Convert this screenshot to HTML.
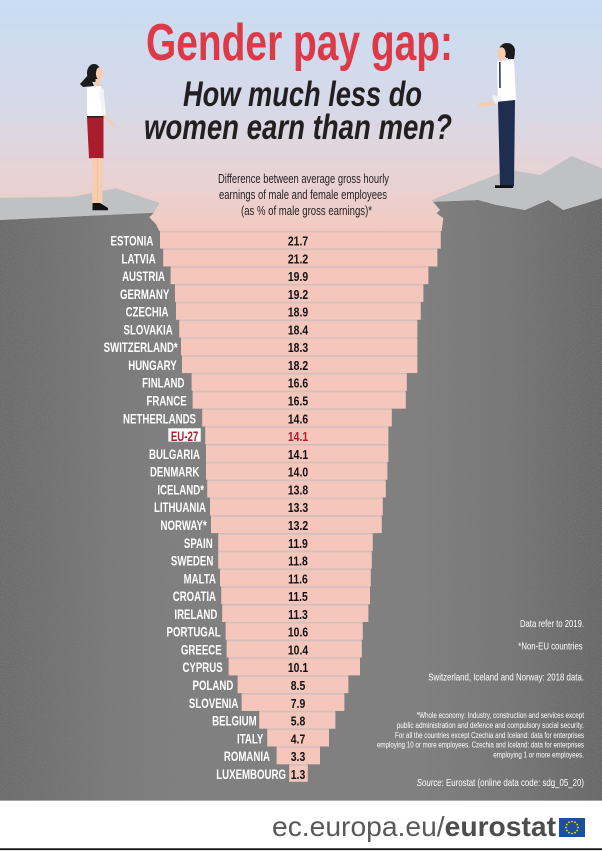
<!DOCTYPE html>
<html><head><meta charset="utf-8"><style>html,body{margin:0;padding:0;background:#fff;}svg{display:block}</style></head>
<body>
<svg width="602" height="852" viewBox="0 0 602 852" xmlns="http://www.w3.org/2000/svg" font-family="'Liberation Sans', sans-serif">
<defs>
<linearGradient id="sky" x1="0" y1="0" x2="0" y2="232" gradientUnits="userSpaceOnUse">
<stop offset="0" stop-color="#c9ddf3"/>
<stop offset="0.45" stop-color="#d6d9e8"/>
<stop offset="0.75" stop-color="#e7d3d6"/>
<stop offset="1" stop-color="#f2cac1"/>
</linearGradient>
<linearGradient id="rock" x1="0" y1="0" x2="602" y2="0" gradientUnits="userSpaceOnUse">
<stop offset="0" stop-color="#6a6a6a"/>
<stop offset="0.18" stop-color="#7a7a7a"/>
<stop offset="0.3" stop-color="#808080"/>
<stop offset="0.7" stop-color="#808080"/>
<stop offset="0.85" stop-color="#767676"/>
<stop offset="1" stop-color="#666666"/>
</linearGradient>
<linearGradient id="fade" x1="0" y1="0" x2="602" y2="0" gradientUnits="userSpaceOnUse">
<stop offset="0" stop-color="#fff"/>
<stop offset="0.2" stop-color="#fff" stop-opacity="0.5"/>
<stop offset="0.32" stop-color="#fff" stop-opacity="0"/>
<stop offset="0.68" stop-color="#fff" stop-opacity="0"/>
<stop offset="0.85" stop-color="#fff" stop-opacity="0.6"/>
<stop offset="1" stop-color="#fff"/>
</linearGradient>
<mask id="edgemask"><rect x="0" y="0" width="602" height="852" fill="url(#fade)"/></mask>
<clipPath id="rockclip"><polygon points="0,220 154,212.7 149.3,217.3 156,224.3 159.3,231 441.7,231 443.3,218.3 436.7,213.3 440,210 433,201.7 478.3,200 496.7,205 525,210 548.3,200 563.3,210 602,198.3 602,800.7 0,800.7"/></clipPath>
<filter id="noise" x="0" y="0" width="100%" height="100%">
<feTurbulence type="fractalNoise" baseFrequency="0.9" numOctaves="2" seed="7"/>
<feColorMatrix type="matrix" values="0 0 0 0 0.3  0 0 0 0 0.3  0 0 0 0 0.3  1.6 0 0 0 -0.6"/>
</filter>
</defs>

<!-- background -->
<rect x="0" y="0" width="602" height="852" fill="url(#sky)"/>

<!-- rock -->
<polygon fill="url(#rock)" points="0,220 154,212.7 149.3,217.3 156,224.3 159.3,231 441.7,231 443.3,218.3 436.7,213.3 440,210 433,201.7 478.3,200 496.7,205 525,210 548.3,200 563.3,210 602,198.3 602,800.7 0,800.7"/>
<g clip-path="url(#rockclip)" mask="url(#edgemask)">
<rect x="0" y="195" width="602" height="606" filter="url(#noise)" opacity="0.55"/>
</g>
<!-- slabs -->
<polygon fill="#c0c1c3" points="0,197.7 73,196.7 116,188.3 159.3,202.7 154,212.7 0,220"/>
<polygon fill="#c0c1c3" points="431.7,200 500,173.3 515,170.7 540,175 571.7,156 602,168.3 602,198.3 563.3,210 548.3,200 525,210 496.7,205 478.3,200 433,201.7"/>

<!-- woman -->
<g>
<ellipse cx="94" cy="73" rx="7" ry="9" fill="#1b1b1b"/>
<polygon fill="#1b1b1b" points="89,74 80,84 83,87 94,86"/>
<ellipse cx="99.5" cy="73.5" rx="3.6" ry="6.2" fill="#f6cdb0"/>
<rect x="95.5" y="79" width="4" height="9" fill="#f6cdb0"/>
<polygon fill="#ffffff" points="87,87 101,86 104,100 103.5,116.7 87,117"/>
<polygon fill="#f4f4f4" points="99,88 103.5,89 106,116 102.5,117"/>
<line x1="104" y1="116" x2="114" y2="126" stroke="#f6cdb0" stroke-width="2.5" stroke-linecap="round"/>
<rect x="87" y="116" width="16.5" height="1.5" fill="#222"/>
<polygon fill="#a81c2c" points="87,117.5 103.5,117.5 103.5,158.3 89,158.3"/>
<rect x="92" y="158" width="10.5" height="46" fill="#f6cdb0"/>
<line x1="97.2" y1="160" x2="97.2" y2="203" stroke="#e4b89a" stroke-width="0.6"/>
<polygon fill="#111" points="92.5,203 100,203 108,208 108,210.3 92.5,210.3"/>
</g>

<!-- man -->
<g>
<ellipse cx="507" cy="50.5" rx="8" ry="7.5" fill="#1b1b1b"/>
<polygon fill="#1b1b1b" points="508,52 515,53 514,59 508,59"/>
<ellipse cx="501.5" cy="53.5" rx="4.2" ry="6.3" fill="#f6cdb0"/>
<rect x="501" y="57" width="5" height="5" fill="#f6cdb0"/>
<polygon fill="#ffffff" points="497,61 514,60 516,100 498,102"/>
<line x1="499.8" y1="62" x2="500" y2="88" stroke="#1f2d50" stroke-width="1.5"/>
<polygon fill="#f2f2f2" points="492,95 500,96.5 502,102 494,104"/>
<polygon fill="#f6cdb0" points="478,104 494,100.5 495,104.5 480,107.5"/>
<polygon fill="#1f2d50" points="498,101.7 515,100 514,186 500,186"/>
<polygon fill="#111" points="495,185.3 513.3,185.3 513.3,188 495,188"/>
</g>

<!-- title -->
<text x="146" y="60" font-size="52" font-weight="bold" fill="#dd3947" textLength="307" lengthAdjust="spacingAndGlyphs">Gender pay gap:</text>
<text x="183" y="106" font-size="35" font-weight="bold" font-style="italic" fill="#231f20" textLength="239" lengthAdjust="spacingAndGlyphs">How much less do</text>
<text x="144" y="139" font-size="35" font-weight="bold" font-style="italic" fill="#231f20" textLength="308" lengthAdjust="spacingAndGlyphs">women earn than men?</text>

<!-- subtitle -->
<g font-size="12.5" fill="#231f20">
<text x="218" y="183" textLength="171" lengthAdjust="spacingAndGlyphs">Difference between average gross hourly</text>
<text x="219" y="199" textLength="168" lengthAdjust="spacingAndGlyphs">earnings of male and female employees</text>
<text x="241" y="215" textLength="131" lengthAdjust="spacingAndGlyphs">(as % of male gross earnings)*</text>
</g>

<!-- bars: separators -->
<g fill="#d3c1bd">
<rect x="160" y="230.8" width="280.7" height="17.78"/>
<rect x="163.3" y="248.58" width="274" height="17.78"/>
<rect x="170.7" y="266.36" width="257.6" height="17.78"/>
<rect x="175" y="284.14" width="248.3" height="17.78"/>
<rect x="176" y="301.92" width="244.7" height="17.78"/>
<rect x="179.3" y="319.7" width="238" height="17.78"/>
<rect x="181" y="337.48" width="236.3" height="17.78"/>
<rect x="182" y="355.26" width="235.3" height="17.78"/>
<rect x="191.7" y="373.04" width="215" height="17.78"/>
<rect x="192.7" y="390.82" width="213" height="17.78"/>
<rect x="202.3" y="408.6" width="189.4" height="17.78"/>
<rect x="205.3" y="426.38" width="183" height="17.78"/>
<rect x="206" y="444.16" width="182.3" height="17.78"/>
<rect x="206" y="461.94" width="181.3" height="17.78"/>
<rect x="207.3" y="479.72" width="178.4" height="17.78"/>
<rect x="210" y="497.5" width="172.7" height="17.78"/>
<rect x="211" y="515.28" width="170.7" height="17.78"/>
<rect x="218.3" y="533.06" width="154.4" height="17.78"/>
<rect x="218.3" y="550.84" width="153.4" height="17.78"/>
<rect x="220" y="568.62" width="150.7" height="17.78"/>
<rect x="221.3" y="586.4" width="148.7" height="17.78"/>
<rect x="222.3" y="604.18" width="146" height="17.78"/>
<rect x="225.7" y="621.96" width="137" height="17.78"/>
<rect x="226.7" y="639.74" width="135" height="17.78"/>
<rect x="228.7" y="657.52" width="131.3" height="17.78"/>
<rect x="237.7" y="675.3" width="110.6" height="17.78"/>
<rect x="241.7" y="693.08" width="102.6" height="17.78"/>
<rect x="259.3" y="710.86" width="76" height="17.78"/>
<rect x="267.3" y="728.64" width="61.7" height="17.78"/>
<rect x="276.7" y="746.42" width="43.3" height="17.78"/>
<rect x="289.3" y="764.2" width="18.4" height="17.5"/>
</g>
<!-- bars: fill -->
<g fill="#f4c6bc">
<rect x="160" y="232.3" width="280.7" height="16.28"/>
<rect x="163.3" y="250.08" width="274" height="16.28"/>
<rect x="170.7" y="267.86" width="257.6" height="16.28"/>
<rect x="175" y="285.64" width="248.3" height="16.28"/>
<rect x="176" y="303.42" width="244.7" height="16.28"/>
<rect x="179.3" y="321.2" width="238" height="16.28"/>
<rect x="181" y="338.98" width="236.3" height="16.28"/>
<rect x="182" y="356.76" width="235.3" height="16.28"/>
<rect x="191.7" y="374.54" width="215" height="16.28"/>
<rect x="192.7" y="392.32" width="213" height="16.28"/>
<rect x="202.3" y="410.1" width="189.4" height="16.28"/>
<rect x="205.3" y="427.88" width="183" height="16.28"/>
<rect x="206" y="445.66" width="182.3" height="16.28"/>
<rect x="206" y="463.44" width="181.3" height="16.28"/>
<rect x="207.3" y="481.22" width="178.4" height="16.28"/>
<rect x="210" y="499" width="172.7" height="16.28"/>
<rect x="211" y="516.78" width="170.7" height="16.28"/>
<rect x="218.3" y="534.56" width="154.4" height="16.28"/>
<rect x="218.3" y="552.34" width="153.4" height="16.28"/>
<rect x="220" y="570.12" width="150.7" height="16.28"/>
<rect x="221.3" y="587.9" width="148.7" height="16.28"/>
<rect x="222.3" y="605.68" width="146" height="16.28"/>
<rect x="225.7" y="623.46" width="137" height="16.28"/>
<rect x="226.7" y="641.24" width="135" height="16.28"/>
<rect x="228.7" y="659.02" width="131.3" height="16.28"/>
<rect x="237.7" y="676.8" width="110.6" height="16.28"/>
<rect x="241.7" y="694.58" width="102.6" height="16.28"/>
<rect x="259.3" y="712.36" width="76" height="16.28"/>
<rect x="267.3" y="730.14" width="61.7" height="16.28"/>
<rect x="276.7" y="747.92" width="43.3" height="16.28"/>
<rect x="289.3" y="765.7" width="18.4" height="16"/>
</g>

<!-- EU-27 box -->
<rect x="168.3" y="428.3" width="32.4" height="13.4" fill="#ffffff"/>

<!-- labels -->
<g font-size="13.8" font-weight="bold" fill="#ffffff" text-anchor="end">
<text transform="translate(153.3,245.5) scale(0.7,1)">ESTONIA</text>
<text transform="translate(155.7,263.28) scale(0.7,1)">LATVIA</text>
<text transform="translate(165,281.06) scale(0.7,1)">AUSTRIA</text>
<text transform="translate(169.3,298.84) scale(0.7,1)">GERMANY</text>
<text transform="translate(168.5,316.62) scale(0.7,1)">CZECHIA</text>
<text transform="translate(172.7,334.4) scale(0.7,1)">SLOVAKIA</text>
<text transform="translate(177.7,352.18) scale(0.7,1)">SWITZERLAND*</text>
<text transform="translate(176.7,369.96) scale(0.7,1)">HUNGARY</text>
<text transform="translate(184.5,387.74) scale(0.7,1)">FINLAND</text>
<text transform="translate(186.7,405.52) scale(0.7,1)">FRANCE</text>
<text transform="translate(196,423.3) scale(0.7,1)">NETHERLANDS</text>
<text transform="translate(200,458.86) scale(0.7,1)">BULGARIA</text>
<text transform="translate(199.3,476.64) scale(0.7,1)">DENMARK</text>
<text transform="translate(204,494.42) scale(0.7,1)">ICELAND*</text>
<text transform="translate(206,512.2) scale(0.7,1)">LITHUANIA</text>
<text transform="translate(206.7,529.98) scale(0.7,1)">NORWAY*</text>
<text transform="translate(212.7,547.76) scale(0.7,1)">SPAIN</text>
<text transform="translate(213.3,565.54) scale(0.7,1)">SWEDEN</text>
<text transform="translate(216,583.32) scale(0.7,1)">MALTA</text>
<text transform="translate(216,601.1) scale(0.7,1)">CROATIA</text>
<text transform="translate(217.3,618.88) scale(0.7,1)">IRELAND</text>
<text transform="translate(220.7,636.66) scale(0.7,1)">PORTUGAL</text>
<text transform="translate(221.7,654.44) scale(0.7,1)">GREECE</text>
<text transform="translate(222.7,672.22) scale(0.7,1)">CYPRUS</text>
<text transform="translate(233.3,690) scale(0.7,1)">POLAND</text>
<text transform="translate(238.3,707.78) scale(0.7,1)">SLOVENIA</text>
<text transform="translate(256.7,725.56) scale(0.7,1)">BELGIUM</text>
<text transform="translate(263.3,743.34) scale(0.7,1)">ITALY</text>
<text transform="translate(270,761.12) scale(0.7,1)">ROMANIA</text>
<text transform="translate(286,778.9) scale(0.7,1)">LUXEMBOURG</text>
</g>
<text transform="translate(184.5,441.08) scale(0.7,1)" font-size="13.8" font-weight="bold" fill="#b31d2e" text-anchor="middle">EU-27</text>

<!-- values -->
<g font-size="13" font-weight="bold" fill="#111" text-anchor="middle">
<text transform="translate(298,245.5) scale(0.8,1)">21.7</text>
<text transform="translate(298,263.28) scale(0.8,1)">21.2</text>
<text transform="translate(298,281.06) scale(0.8,1)">19.9</text>
<text transform="translate(298,298.84) scale(0.8,1)">19.2</text>
<text transform="translate(298,316.62) scale(0.8,1)">18.9</text>
<text transform="translate(298,334.4) scale(0.8,1)">18.4</text>
<text transform="translate(298,352.18) scale(0.8,1)">18.3</text>
<text transform="translate(298,369.96) scale(0.8,1)">18.2</text>
<text transform="translate(298,387.74) scale(0.8,1)">16.6</text>
<text transform="translate(298,405.52) scale(0.8,1)">16.5</text>
<text transform="translate(298,423.3) scale(0.8,1)">14.6</text>
<text transform="translate(298,441.08) scale(0.8,1)" fill="#b31d2e">14.1</text>
<text transform="translate(298,458.86) scale(0.8,1)">14.1</text>
<text transform="translate(298,476.64) scale(0.8,1)">14.0</text>
<text transform="translate(298,494.42) scale(0.8,1)">13.8</text>
<text transform="translate(298,512.2) scale(0.8,1)">13.3</text>
<text transform="translate(298,529.98) scale(0.8,1)">13.2</text>
<text transform="translate(298,547.76) scale(0.8,1)">11.9</text>
<text transform="translate(298,565.54) scale(0.8,1)">11.8</text>
<text transform="translate(298,583.32) scale(0.8,1)">11.6</text>
<text transform="translate(298,601.1) scale(0.8,1)">11.5</text>
<text transform="translate(298,618.88) scale(0.8,1)">11.3</text>
<text transform="translate(298,636.66) scale(0.8,1)">10.6</text>
<text transform="translate(298,654.44) scale(0.8,1)">10.4</text>
<text transform="translate(298,672.22) scale(0.8,1)">10.1</text>
<text transform="translate(298,690) scale(0.8,1)">8.5</text>
<text transform="translate(298,707.78) scale(0.8,1)">7.9</text>
<text transform="translate(298,725.56) scale(0.8,1)">5.8</text>
<text transform="translate(298,743.34) scale(0.8,1)">4.7</text>
<text transform="translate(298,761.12) scale(0.8,1)">3.3</text>
<text transform="translate(298,778.9) scale(0.8,1)">1.3</text>
</g>

<!-- footnotes -->
<g fill="#ffffff">
<text x="520" y="627" font-size="10.5" textLength="64" lengthAdjust="spacingAndGlyphs">Data refer to 2019.</text>
<text x="518.3" y="649.5" font-size="10.5" textLength="64.4" lengthAdjust="spacingAndGlyphs">*Non-EU countries</text>
<text x="428.3" y="680.5" font-size="10.5" textLength="155.7" lengthAdjust="spacingAndGlyphs">Switzerland, Iceland and Norway: 2018 data.</text>
<text x="416.7" y="718" font-size="8" textLength="167.3" lengthAdjust="spacingAndGlyphs">*Whole economy: Industry, construction and services except</text>
<text x="396.7" y="728" font-size="8" textLength="187.3" lengthAdjust="spacingAndGlyphs">public administration and defence and compulsory social security.</text>
<text x="395" y="738" font-size="8" textLength="189" lengthAdjust="spacingAndGlyphs">For all the countries except Czechia and Iceland: data for enterprises</text>
<text x="377" y="747.5" font-size="8" textLength="207" lengthAdjust="spacingAndGlyphs">employing 10 or more employees. Czechia and Iceland: data for enterprises</text>
<text x="493.3" y="757.5" font-size="8" textLength="90.7" lengthAdjust="spacingAndGlyphs">employing 1 or more employees.</text>
<text x="416.7" y="786" font-size="10.5" textLength="167.3" lengthAdjust="spacingAndGlyphs"><tspan font-style="italic">Source</tspan>: Eurostat (online data code: sdg_05_20)</text>
</g>

<!-- bottom strip -->
<rect x="0" y="800.7" width="602" height="51.3" fill="#ffffff"/>
<rect x="0" y="848.3" width="602" height="1.8" fill="#111"/>
<text x="272" y="836" font-size="28" fill="#58595b" textLength="284" lengthAdjust="spacingAndGlyphs">ec.europa.eu/<tspan font-weight="bold" fill="#4d4d4f">eurostat</tspan></text>
<rect x="559" y="818" width="26" height="19" fill="#1d4f9f"/>
<g fill="#ffdd00">
<circle cx="572" cy="821.5" r="0.9"/>
<circle cx="575" cy="822.3" r="0.9"/>
<circle cx="577.2" cy="824.5" r="0.9"/>
<circle cx="578" cy="827.5" r="0.9"/>
<circle cx="577.2" cy="830.5" r="0.9"/>
<circle cx="575" cy="832.7" r="0.9"/>
<circle cx="572" cy="833.5" r="0.9"/>
<circle cx="569" cy="832.7" r="0.9"/>
<circle cx="566.8" cy="830.5" r="0.9"/>
<circle cx="566" cy="827.5" r="0.9"/>
<circle cx="566.8" cy="824.5" r="0.9"/>
<circle cx="569" cy="822.3" r="0.9"/>
</g>
</svg>
</body></html>
